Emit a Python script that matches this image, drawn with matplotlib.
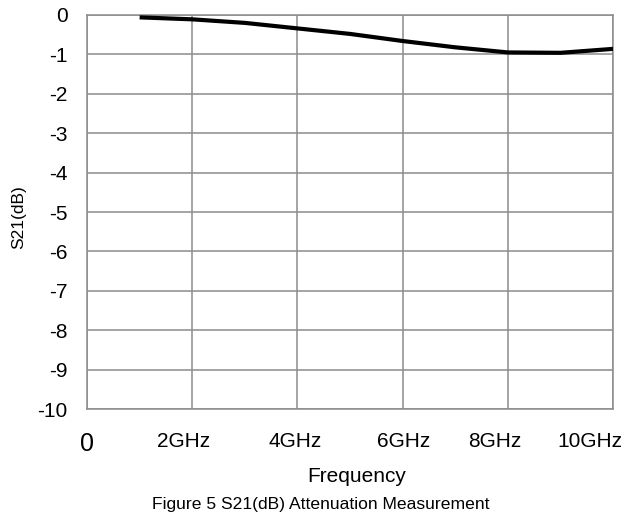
import numpy as np
import matplotlib
matplotlib.use('Agg')
import matplotlib.pyplot as plt
import matplotlib.transforms as mtransforms

plt.rcParams['font.family'] = ['Liberation Sans', 'DejaVu Sans']

# Measured S21 (dB) vs frequency (GHz)
freq_ghz = [1, 2, 3, 4, 5, 6, 7, 8, 9, 10]
s21_db = [-0.06, -0.11, -0.20, -0.34, -0.48, -0.66, -0.82, -0.95, -0.96, -0.86]

# y ticks and x labels
y_ticks = [0, -1, -2, -3, -4, -5, -6, -7, -8, -9, -10]
x_grid = [0, 2, 4, 6, 8, 10]
x_labels = ['2GHz', '4GHz', '6GHz', '8GHz', '10GHz']
x_label_pos = [1.84, 3.96, 6.01, 7.76, 9.56]

grid_color = '#8c8c8c'

fig = plt.figure(figsize=(6.26, 5.17), dpi=100)
ax = fig.add_axes([87 / 626, 1 - 409 / 517, 526 / 626, 394 / 517])

ax.plot(freq_ghz, s21_db, color='black', linewidth=3.0, solid_capstyle='butt', zorder=3)

ax.set_xlim(0, 10)
ax.set_ylim(-10, 0)
ax.set_xticks(x_grid)
ax.set_xticklabels([])
ax.set_yticks(y_ticks)
ax.set_yticklabels([str(v) for v in y_ticks], fontsize=15)
ax.tick_params(axis='both', length=0)
ax.tick_params(axis='y', pad=14)
ax.grid(True, color=grid_color, linewidth=1.1)
for s in ax.spines.values():
    s.set_color(grid_color)
    s.set_linewidth(1.1)

# y label placed by hand
fig.text(19 / 626, 1 - 217 / 517, 'S21(dB)', rotation=90, ha='center', va='center', fontsize=12.5)

# x labels drawn as text boxes under the plot
trans = mtransforms.blended_transform_factory(ax.transData, fig.transFigure)
ax.text(0.0, 1 - 451 / 517, '0', transform=trans, ha='center', va='baseline', fontsize=18)
for pos, lab in zip(x_label_pos, x_labels):
    ax.text(pos, 1 - 447 / 517, lab, transform=trans, ha='center', va='baseline', fontsize=15)

fig.text(307 / 626, 1 - 482 / 517, 'Frequency', ha='left', va='baseline', fontsize=15)
fig.text(152 / 626, 1 - 509 / 517, 'Figure 5 S21(dB) Attenuation Measurement',
         ha='left', va='baseline', fontsize=12.6)

fig.savefig('out.png', dpi=100)
